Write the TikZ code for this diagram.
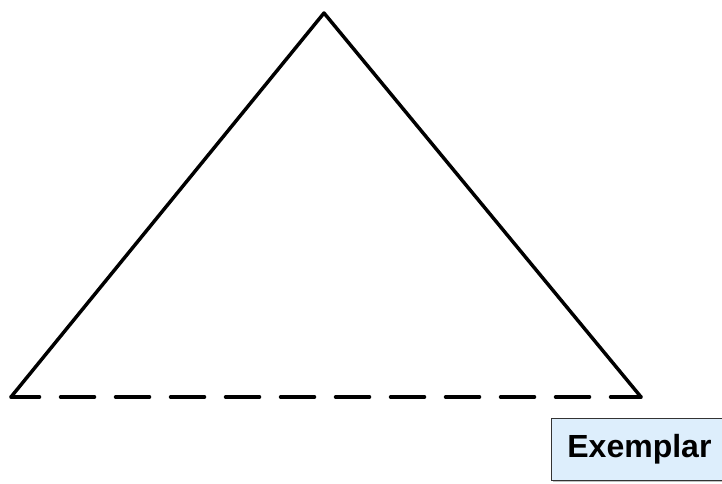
\documentclass[tikz,border=0pt]{standalone}
\usepackage{fontspec}
\setmainfont{Liberation Sans}
\usetikzlibrary{shadows}
\definecolor{boxfill}{HTML}{DDEEFC}
\begin{document}
\begin{tikzpicture}[x=0.75pt,y=-0.75pt,
  edge/.style={line width=2.6pt,line cap=round,line join=round},
  dashedge/.style={edge,dash pattern=on 25.5pt off 15.75pt,dash phase=4.1pt},
  label/.style={draw=black!80,line width=0.6pt,fill=boxfill,font=\bfseries\fontsize{24}{28}\selectfont,
    inner xsep=12pt,inner ysep=0pt,minimum height=46.5pt,anchor=north west,
    drop shadow={shadow xshift=1.5pt,shadow yshift=-1.5pt,opacity=0.5}}]
\useasboundingbox (0,0) rectangle (722,484);
\coordinate (A) at (324,13);
\coordinate (B) at (11,397);
\coordinate (C) at (641,397);
\draw[edge] (B) -- (A) -- (C);
\draw[dashedge] (B) -- (C);
\node[label] (ex) at (551,418) {Exemplar};
\end{tikzpicture}
\end{document}
